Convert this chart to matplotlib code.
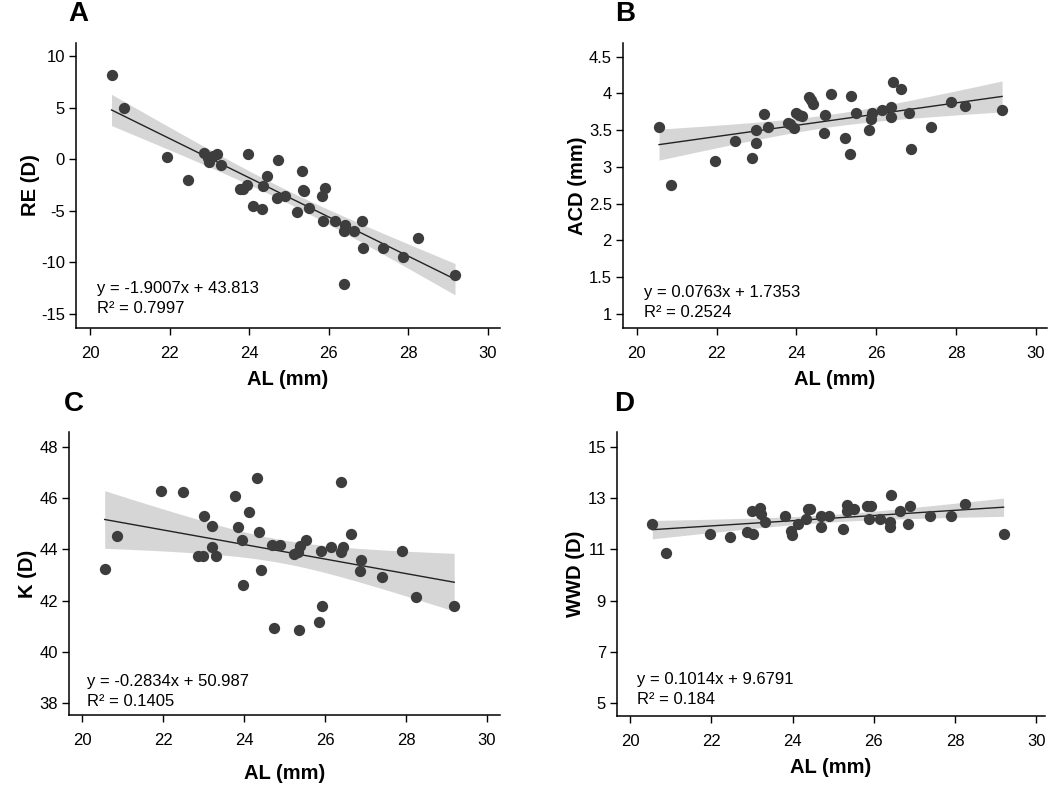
import numpy as np
import matplotlib
matplotlib.use("Agg")
import matplotlib.pyplot as plt

plt.rcParams['font.family'] = ['Liberation Sans', 'DejaVu Sans']

# AL (mm) vs RE (D)
al_a = [20.54, 20.85, 21.94, 22.45, 22.86, 22.97, 23.0, 23.2, 23.1, 23.3,
        23.98, 23.77, 23.85, 23.94, 24.1, 24.31, 24.44, 24.35, 24.72, 24.69,
        24.9, 25.21, 25.32, 25.36, 25.38, 25.5, 25.9, 25.82, 25.86, 26.16,
        26.41, 26.37, 26.62, 26.84, 26.87, 26.38, 27.37, 27.87, 28.23, 29.17]
re = [8.16, 5.0, 0.2, -2.0, 0.58, 0.16, -0.26, 0.55, 0.3, -0.55,
      0.49, -2.85, -2.9, -2.5, -4.5, -4.85, -1.6, -2.6, -0.06, -3.8,
      -3.56, -5.1, -1.1, -3.0, -3.1, -4.76, -2.8, -3.56, -6.0, -6.0,
      -6.4, -6.96, -6.96, -6.0, -8.6, -12.1, -8.6, -9.5, -7.6, -11.2]

# AL (mm) vs ACD (mm)
al_b = [20.56, 20.85, 21.96, 22.47, 22.88, 22.98, 23.0, 23.18, 23.29, 23.78,
        23.83, 23.94, 23.98, 24.07, 24.14, 24.31, 24.36, 24.42, 24.68, 24.72,
        24.86, 25.21, 25.33, 25.36, 25.49, 25.82, 25.86, 25.9, 26.14, 26.38,
        26.38, 26.41, 26.62, 26.83, 26.88, 27.38, 27.88, 28.22, 29.15]
acd = [3.54, 2.76, 3.08, 3.35, 3.12, 3.5, 3.33, 3.72, 3.55, 3.60,
       3.58, 3.53, 3.73, 3.71, 3.69, 3.95, 3.91, 3.86, 3.46, 3.71,
       3.99, 3.39, 3.17, 3.96, 3.74, 3.5, 3.65, 3.74, 3.77, 3.82,
       3.68, 4.15, 4.06, 3.74, 3.24, 3.54, 3.88, 3.83, 3.77]

# AL (mm) vs K (D)
al_c = [20.56, 20.87, 21.95, 22.49, 23.02, 23.2, 23.22, 22.87, 22.99, 23.31,
        23.79, 23.86, 23.95, 24.13, 24.33, 24.38, 24.43, 23.98, 24.7, 24.9,
        24.73, 25.23, 25.34, 25.38, 25.53, 25.35, 25.9, 25.84, 25.93, 26.16,
        26.39, 26.39, 26.45, 26.64, 26.9, 26.86, 27.4, 27.89, 28.25, 29.19]
k = [43.22, 44.5, 46.27, 46.24, 45.29, 44.9, 44.1, 43.74, 43.74, 43.74,
     46.08, 44.88, 44.36, 45.45, 46.76, 44.66, 43.2, 42.61, 44.16, 44.16,
     40.94, 43.81, 43.91, 44.13, 44.36, 40.85, 43.94, 41.18, 41.8, 44.1,
     46.61, 43.9, 44.09, 44.6, 43.59, 43.16, 42.91, 43.94, 42.15, 41.8]

# AL (mm) vs WWD (D)
al_d = [20.55, 20.88, 21.96, 22.47, 22.87, 23.03, 23.0, 23.2, 23.23, 23.31,
        23.82, 23.95, 23.99, 24.14, 24.33, 24.38, 24.44, 24.69, 24.71, 24.9,
        25.23, 25.34, 25.35, 25.51, 25.83, 25.92, 25.88, 26.16, 26.39, 26.39,
        26.43, 26.64, 26.84, 26.89, 27.38, 27.89, 28.23, 29.19]
wwd = [12.0, 10.87, 11.58, 11.47, 11.69, 11.58, 12.49, 12.61, 12.39, 12.07,
       12.29, 11.72, 11.56, 12.0, 12.19, 12.57, 12.57, 11.86, 12.29, 12.29,
       11.78, 12.74, 12.48, 12.57, 12.7, 12.7, 12.19, 12.19, 12.08, 11.86,
       13.1, 12.5, 12.0, 12.7, 12.28, 12.28, 12.78, 11.58]

# regression equations as printed on the chart
slopes = [-1.9007, 0.0763, -0.2834, 0.1014]
intercepts = [43.813, 1.7353, 50.987, 9.6791]
r2_text = ['0.7997', '0.2524', '0.1405', '0.184']

panel_letters = ['A', 'B', 'C', 'D']
ylabels = ['RE (D)', 'ACD (mm)', 'K (D)', 'WWD (D)']
xticks = [20, 22, 24, 26, 28, 30]
yticks = [[10, 5, 0, -5, -10, -15],
          [4.5, 4, 3.5, 3, 2.5, 2, 1.5, 1],
          [48, 46, 44, 42, 40, 38],
          [15, 13, 11, 9, 7, 5]]

xs_all = [al_a, al_b, al_c, al_d]
ys_all = [re, acd, k, wwd]

W, H = 1050, 786
# axes boxes in pixels: left, right, top, bottom
boxes = [(76, 500, 43, 328), (623, 1047, 43, 328),
         (69, 500, 432, 715), (617, 1045, 432, 716)]
xlims = [(19.648, 30.30), (19.657, 30.275), (19.679, 30.321), (19.68, 30.21)]
ylims = [(-16.36, 11.26), (0.81, 4.686), (37.54, 48.57), (4.5, 15.57)]
ylab_x = [-0.108, -0.108, -0.097, -0.098]
xlab_y = [-0.179, -0.179, -0.205, -0.183]
eq_pos = [(0.050, 0.123, 0.053), (0.050, 0.109, 0.039),
          (0.042, 0.102, 0.032), (0.046, 0.113, 0.042)]
letter_pos = [(78, 14), (625, 14), (74, 404), (624, 404)]

fig = plt.figure(figsize=(10.5, 7.86), dpi=100)

for i in range(4):
    l, r, t, b = boxes[i]
    ax = fig.add_axes([l / W, 1 - b / H, (r - l) / W, (b - t) / H])
    x = np.array(xs_all[i])
    y = np.array(ys_all[i])
    m, c0 = slopes[i], intercepts[i]

    # 95% confidence band around the fitted line
    n = len(x)
    resid = y - (m * x + c0)
    s = np.sqrt(np.sum(resid ** 2) / (n - 2))
    sxx = np.sum((x - x.mean()) ** 2)
    xf = np.linspace(x.min(), x.max(), 100)
    yf = m * xf + c0
    se = s * np.sqrt(1 / n + (xf - x.mean()) ** 2 / sxx)
    ax.fill_between(xf, yf - 2.1 * se, yf + 2.1 * se, color='#d6d6d6', lw=0, zorder=1)
    ax.plot(xf, yf, color='#222222', lw=1.0, zorder=2)
    ax.scatter(x, y, s=66, color='#3d3d3d', lw=0, zorder=3)

    ax.set_xlim(xlims[i])
    ax.set_ylim(ylims[i])
    ax.set_xticks(xticks)
    ax.set_yticks(yticks[i])
    ax.set_yticklabels([('%g' % v) for v in yticks[i]])
    for sp in ['top', 'right']:
        ax.spines[sp].set_visible(False)
    for sp in ['left', 'bottom']:
        ax.spines[sp].set_linewidth(1.1)
    ax.tick_params(axis='both', direction='out', length=5, width=1.0, labelsize=12)
    ax.tick_params(axis='x', pad=8)
    ax.tick_params(axis='y', pad=3)

    ax.set_xlabel('AL (mm)', fontsize=14.5, fontweight='bold')
    ax.set_ylabel(ylabels[i], fontsize=14.5, fontweight='bold')
    ax.xaxis.set_label_coords(0.5, xlab_y[i])
    ax.xaxis.label.set_verticalalignment('center')
    ax.yaxis.set_label_coords(ylab_x[i], 0.5)
    ax.yaxis.label.set_verticalalignment('center')

    ex, ey1, ey2 = eq_pos[i]
    sign = '-' if m < 0 else ''
    eq = 'y = %s%sx + %s' % (sign, ('%g' % abs(m)), ('%g' % intercepts[i]))
    ax.text(ex, ey1, eq, transform=ax.transAxes, fontsize=12, va='baseline')
    ax.text(ex, ey2, 'R² = ' + r2_text[i], transform=ax.transAxes, fontsize=12, va='baseline')

    lx, ly = letter_pos[i]
    fig.text(lx / W, 1 - ly / H, panel_letters[i], fontsize=20, fontweight='bold',
             ha='center', va='center')

fig.savefig('out.png', dpi=100)
